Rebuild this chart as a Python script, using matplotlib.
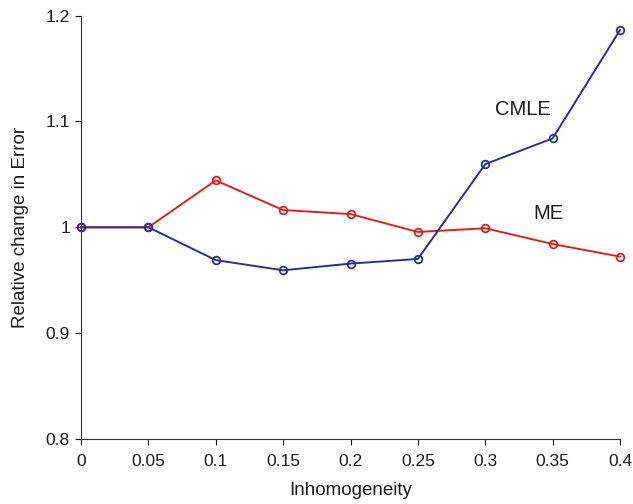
import matplotlib
matplotlib.use("Agg")
import matplotlib.pyplot as plt

inhomogeneity = [0, 0.05, 0.1, 0.15, 0.2, 0.25, 0.3, 0.35, 0.4]
cmle = [1.0, 1.0, 0.969, 0.9594, 0.9657, 0.9701, 1.0597, 1.084, 1.1864]
me = [1.0, 1.0, 1.0443, 1.0163, 1.0125, 0.9956, 0.9991, 0.9842, 0.9723]
xticks = [0, 0.05, 0.1, 0.15, 0.2, 0.25, 0.3, 0.35, 0.4]
xticklabels = ["0", "0.05", "0.1", "0.15", "0.2", "0.25", "0.3", "0.35", "0.4"]
yticks = [0.8, 0.9, 1.0, 1.1, 1.2]
yticklabels = ["0.8", "0.9", "1", "1.1", "1.2"]

plt.rcParams['font.family'] = ['Liberation Sans', 'DejaVu Sans']

fig = plt.figure(figsize=(6.33, 5.04), dpi=100)
ax = fig.add_axes([0.128, 0.129, 0.8515, 0.84])

red = "#e02020"
blue = "#2e2e92"
ax.plot(inhomogeneity, me, color=red, lw=1.4, marker='o', ms=5.5,
        mfc='none', mec=red, mew=1.3, clip_on=False, zorder=3)
ax.plot(inhomogeneity, cmle, color=blue, lw=1.4, marker='o', ms=5.5,
        mfc='none', mec=blue, mew=1.3, clip_on=False, zorder=4)

ax.text(0.328, 1.1116, "CMLE", fontsize=14.5, ha='center', va='center', color='#1a1a1a')
ax.text(0.3466, 1.0135, "ME", fontsize=14.5, ha='center', va='center', color='#1a1a1a')

ax.set_xlim(0, 0.4)
ax.set_ylim(0.8, 1.2)
ax.set_xticks(xticks)
ax.set_xticklabels(xticklabels)
ax.set_yticks(yticks)
ax.set_yticklabels(yticklabels)
ax.tick_params(direction='out', length=4, width=0.8, labelsize=12.5, colors='#1a1a1a', pad=4)
ax.tick_params(axis='x', pad=7)
for s in ['top', 'right']:
    ax.spines[s].set_visible(False)
for s in ['left', 'bottom']:
    ax.spines[s].set_linewidth(0.8)
    ax.spines[s].set_color('#333333')

ax.set_xlabel("Inhomogeneity", fontsize=13.5, color='#1a1a1a', labelpad=9)
ax.set_ylabel("Relative change in Error", fontsize=13.5, color='#1a1a1a', labelpad=12)

fig.savefig("out.png", dpi=100)
